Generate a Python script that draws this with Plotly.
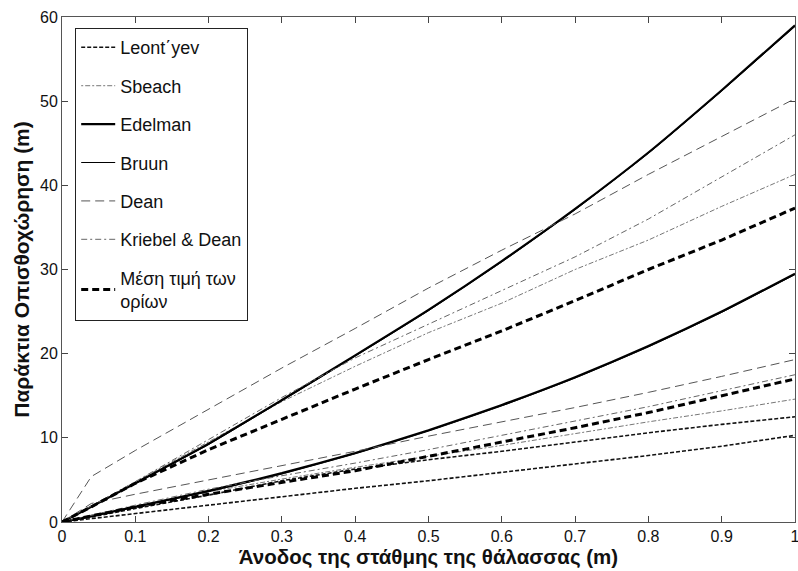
import plotly.graph_objects as go

x_vals = [0, 0.04, 0.1, 0.2, 0.3, 0.4, 0.5, 0.6, 0.7, 0.8, 0.9, 1.0]

# upper / lower bounds per model (m)
leontyev_up = [0, 0.6, 1.6, 3.2, 4.9, 6.3, 7.4, 8.4, 9.5, 10.6, 11.6, 12.5]
leontyev_lo = [0, 0.4, 1.0, 2.0, 3.0, 4.0, 4.9, 5.9, 6.9, 7.9, 9.0, 10.3]
sbeach_up = [0, 1.9, 4.8, 9.6, 14.3, 18.5, 22.5, 26.0, 30.0, 33.5, 37.5, 41.3]
sbeach_lo = [0, 0.8, 1.9, 3.6, 5.1, 6.5, 7.8, 9.1, 10.5, 11.9, 13.2, 14.6]
edelman_up = [0, 1.8, 4.6, 9.3, 14.5, 19.8, 25.2, 31.0, 37.2, 43.9, 51.3, 59.0]
edelman_lo = [0, 0.7, 1.8, 3.7, 5.8, 8.2, 10.9, 13.9, 17.2, 20.9, 25.0, 29.5]
bruun_up = [0, 1.8, 4.6, 9.2, 14.4, 19.7, 25.1, 30.9, 37.1, 43.8, 51.2, 58.9]
bruun_lo = [0, 0.7, 1.8, 3.6, 5.7, 8.1, 10.8, 13.8, 17.1, 20.8, 24.9, 29.4]
dean_up = [0, 5.4, 8.5, 13.4, 18.3, 23.0, 27.8, 32.3, 36.6, 41.3, 45.8, 50.3]
dean_lo = [0, 2.2, 3.3, 5.0, 6.7, 8.4, 10.2, 11.9, 13.6, 15.4, 17.3, 19.3]
kriebel_up = [0, 1.9, 4.8, 9.8, 14.8, 19.5, 23.5, 27.5, 31.5, 36.0, 41.0, 46.0]
kriebel_lo = [0, 0.8, 2.0, 3.9, 5.5, 7.0, 8.6, 10.3, 12.0, 13.7, 15.6, 17.5]
mean_up = [0, 1.8, 4.6, 8.6, 12.2, 15.8, 19.3, 22.7, 26.3, 30.0, 33.5, 37.3]
mean_lo = [0, 0.7, 1.8, 3.3, 4.7, 6.1, 7.8, 9.5, 11.2, 13.0, 15.0, 17.0]

x_ticks = [0, 0.1, 0.2, 0.3, 0.4, 0.5, 0.6, 0.7, 0.8, 0.9, 1]
x_tick_labels = ["0", "0.1", "0.2", "0.3", "0.4", "0.5", "0.6", "0.7", "0.8", "0.9", "1"]
y_ticks = [0, 10, 20, 30, 40, 50, 60]

names = ["Leont΄yev", "Sbeach", "Edelman", "Bruun", "Dean", "Kriebel & Dean",
         "Μέση τιμή των<br>ορίων"]
uppers = [leontyev_up, sbeach_up, edelman_up, bruun_up, dean_up, kriebel_up, mean_up]
lowers = [leontyev_lo, sbeach_lo, edelman_lo, bruun_lo, dean_lo, kriebel_lo, mean_lo]
styles = [
    dict(color="#111111", width=1.6, dash="4px,2px"),
    dict(color="#777777", width=1, dash="2px,2px,5px,2px"),
    dict(color="#000000", width=2.2, dash="solid", shape="spline", smoothing=0.5),
    dict(color="#000000", width=1, dash="solid", shape="spline", smoothing=0.5),
    dict(color="#555555", width=1, dash="9px,5px"),
    dict(color="#666666", width=1, dash="6px,3px,2px,3px"),
    dict(color="#000000", width=3, dash="7px,4px"),
]

fig = go.Figure()
for i, (nm, up, lo, st) in enumerate(zip(names, uppers, lowers, styles)):
    fig.add_trace(go.Scatter(
        x=x_vals + [None] + x_vals,
        y=up + [None] + lo,
        mode="lines", name=nm, line=st, legendgroup=f"g{i}",
        connectgaps=False,
    ))

axis_common = dict(
    showgrid=False, zeroline=False, ticks="inside", ticklen=6, tickcolor="#444",
    mirror="ticks", showline=True, linecolor="#555", linewidth=1, automargin=False,
    ticklabeloverflow="allow",
    tickfont=dict(family="Liberation Sans, Arial", size=16, color="#111"),
)
fig.update_xaxes(range=[0, 1], tickvals=x_ticks, ticktext=x_tick_labels,
                 title=dict(text="<b>Άνοδος της στάθμης της θάλασσας (m)</b>", standoff=2,
                            font=dict(family="Liberation Sans, Arial", size=20.5, color="#111")),
                 **axis_common)
fig.update_yaxes(range=[0, 60], tickvals=y_ticks,
                 title=dict(text="<b>Παράκτια Οπισθοχώρηση (m)</b>", standoff=4,
                            font=dict(family="Liberation Sans, Arial", size=21, color="#111")),
                 **axis_common)

fig.update_layout(
    width=798, height=571,
    margin=dict(l=62, r=3, t=17, b=49),
    plot_bgcolor="white", paper_bgcolor="white",
    legend=dict(x=0.018, y=0.978, xanchor="left", yanchor="top",
                bgcolor="white", bordercolor="#222", borderwidth=1,
                font=dict(family="Liberation Sans, Arial", size=18, color="#111"),
                tracegroupgap=12, itemwidth=34),
    showlegend=True,
)

fig.write_html("out.html", config={"displayModeBar": False},
               post_script="document.body.style.margin='0';document.body.style.overflow='hidden';")
